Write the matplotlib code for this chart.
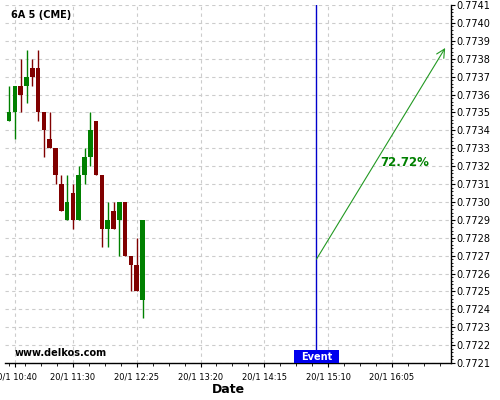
import matplotlib
matplotlib.use("Agg")
import matplotlib.pyplot as plt
from matplotlib.patches import Rectangle
from matplotlib.ticker import FixedLocator, AutoMinorLocator, FormatStrFormatter
import matplotlib.transforms as mtransforms
import numpy as np


def mins(t):
    h, m = t.split(":")
    return int(h) * 60 + int(m)


# 5 minute candles, 6A (CME)
times = ["10:35", "10:40", "10:45", "10:50", "10:55", "11:00", "11:05", "11:10",
         "11:15", "11:20", "11:25", "11:30", "11:35", "11:40", "11:45", "11:50",
         "11:55", "12:00", "12:05", "12:10", "12:15", "12:20", "12:25", "12:30"]
opens = [0.77345, 0.77350, 0.77365, 0.77365, 0.77375, 0.77375, 0.77350, 0.77335,
         0.77330, 0.77310, 0.77290, 0.77305, 0.77290, 0.77315, 0.77325, 0.77345,
         0.77315, 0.77285, 0.77295, 0.77290, 0.77300, 0.77270, 0.77265, 0.77245]
highs = [0.77365, 0.77365, 0.77380, 0.77385, 0.77380, 0.77385, 0.77350, 0.77350,
         0.77330, 0.77315, 0.77315, 0.77310, 0.77320, 0.77330, 0.77350, 0.77345,
         0.77315, 0.77300, 0.77300, 0.77300, 0.77300, 0.77270, 0.77280, 0.77290]
lows = [0.77345, 0.77335, 0.77350, 0.77355, 0.77365, 0.77345, 0.77325, 0.77330,
        0.77310, 0.77295, 0.77290, 0.77285, 0.77290, 0.77310, 0.77320, 0.77315,
        0.77275, 0.77275, 0.77285, 0.77270, 0.77270, 0.77250, 0.77250, 0.77235]
closes = [0.77350, 0.77365, 0.77360, 0.77370, 0.77370, 0.77350, 0.77340, 0.77330,
          0.77315, 0.77295, 0.77300, 0.77290, 0.77315, 0.77325, 0.77340, 0.77315,
          0.77285, 0.77290, 0.77285, 0.77300, 0.77270, 0.77265, 0.77250, 0.77290]

tick_labels = ["20/1 10:40", "20/1 11:30", "20/1 12:25", "20/1 13:20",
               "20/1 14:15", "20/1 15:10", "20/1 16:05"]

event_time = "15:00"
arrow_start = ("15:00", 0.77268)
arrow_end = ("16:51", 0.77386)
pct_text = "72.72%"
pct_pos = ("15:55", 0.77322)

green = "#008000"
red = "#800000"

fig = plt.figure(figsize=(5, 4), dpi=100)
ax = fig.add_axes([0.01, 0.0925, 0.892, 0.895])

x = np.array([mins(t) for t in times])
o = np.array(opens)
c = np.array(closes)
cols = [green if cc >= oo else red for oo, cc in zip(o, c)]

ax.vlines(x, lows, highs, colors=cols, linewidth=1, zorder=3)
ax.bar(x, np.abs(c - o), bottom=np.minimum(o, c), width=4, color=cols,
       linewidth=0, zorder=4)

ax.set_xlim(mins("10:31") + 0.4, mins("16:56"))
ax.set_ylim(0.7721, 0.7741)

tick_pos = [mins(t.split(" ")[1]) for t in tick_labels]
ax.set_xticks(tick_pos)
ax.set_xticklabels(tick_labels, fontsize=6)
minor = np.arange(mins("10:35"), mins("16:56"), 13.75)
ax.xaxis.set_minor_locator(FixedLocator(minor))

ax.set_yticks(np.round(np.arange(0.7721, 0.77411, 0.0001), 4))
ax.yaxis.set_major_formatter(FormatStrFormatter("%.4f"))
ax.yaxis.set_minor_locator(AutoMinorLocator(5))
ax.yaxis.tick_right()
ax.tick_params(axis="y", labelsize=7, length=3, pad=1)
ax.tick_params(axis="y", which="minor", length=1.5)
ax.tick_params(axis="x", length=3, pad=4)
ax.tick_params(axis="x", which="minor", length=2)

for s in ["left", "top"]:
    ax.spines[s].set_visible(False)
ax.spines["right"].set_linewidth(1)
ax.spines["bottom"].set_linewidth(1)

ax.grid(True, which="major", color="#cccccc", linestyle=(0, (3, 3)), linewidth=0.8)
ax.set_axisbelow(True)

ax.set_xlabel("Date", fontsize=9, fontweight="bold", labelpad=1)

# event marker
ex = mins(event_time)
ax.axvline(ex, color="#0000cc", linewidth=1, zorder=5)
trans = mtransforms.blended_transform_factory(ax.transData, ax.transAxes)
ax.add_patch(Rectangle((ex - 19, 0), 38, 0.036, transform=trans,
                       facecolor="#0000ee", edgecolor="none", zorder=6,
                       clip_on=False))
ax.text(ex, 0.018, "Event", transform=trans, ha="center", va="center",
        color="white", fontsize=7, fontweight="bold", zorder=7)

ax.annotate("", xy=(mins(arrow_end[0]), arrow_end[1]),
            xytext=(mins(arrow_start[0]), arrow_start[1]),
            arrowprops=dict(arrowstyle="->,head_length=0.6,head_width=0.3",
                        color="#229922", lw=0.8, shrinkA=0, shrinkB=0),
            zorder=5)
ax.text(mins(pct_pos[0]), pct_pos[1], pct_text, color=green, fontsize=8.5,
        fontweight="bold", ha="left", va="center")

ax.text(0.0128, 0.9707, "6A 5 (CME)", transform=ax.transAxes, fontsize=7,
        fontweight="bold", ha="left", va="center")
ax.text(0.0224, 0.028, "www.delkos.com", transform=ax.transAxes, fontsize=7,
        fontweight="bold", ha="left", va="center")

fig.savefig("out.png", dpi=100)
